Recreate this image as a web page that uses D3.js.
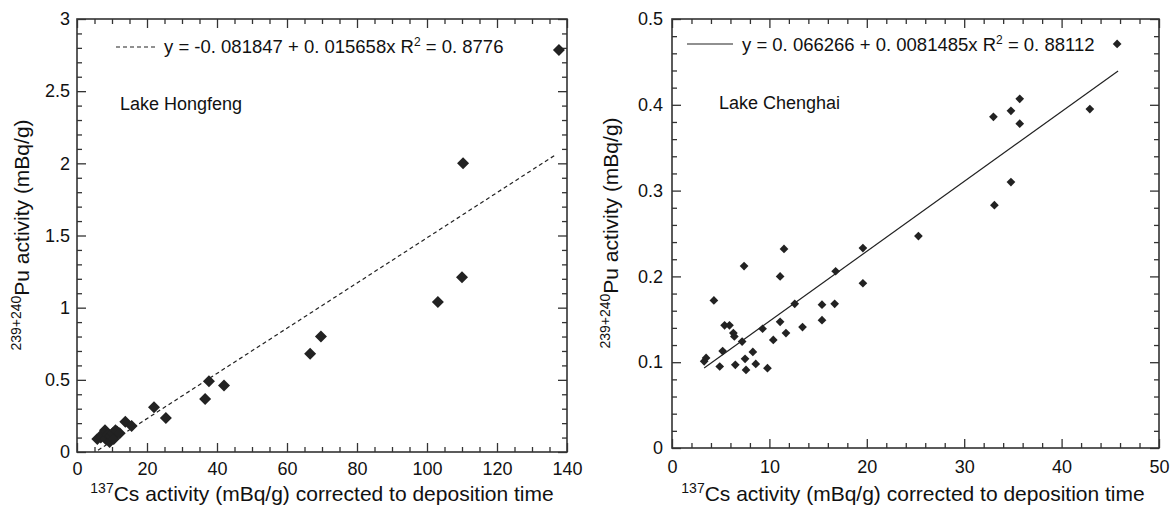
<!DOCTYPE html>
<html>
<head>
<meta charset="utf-8">
<script src="https://cdn.jsdelivr.net/npm/d3@7"></script>
<style>
  body { margin: 0; background: #fff; }
  text { font-family: "Liberation Sans", Arial, sans-serif; fill: #111; }
</style>
</head>
<body>
<svg id="chart" width="1172" height="506"></svg>
<script>
// Lake Hongfeng: 137Cs (mBq/g) vs 239+240Pu (mBq/g)
var hongCs = [5.8, 6.8, 7.5, 8.0, 8.2, 8.8, 9.3, 9.6, 10.2, 10.5, 11.0, 11.5, 12.2,
              13.8, 15.6, 22.0, 25.4, 36.6, 37.7, 42.0, 66.6, 69.7, 103.1, 110.0, 110.3, 137.7];
var hongPu = [0.09, 0.10, 0.13, 0.15, 0.09, 0.12, 0.07, 0.11, 0.13, 0.09, 0.15, 0.14, 0.13,
              0.21, 0.18, 0.31, 0.235, 0.367, 0.49, 0.46, 0.68, 0.80, 1.04, 1.21, 2.00, 2.786];
var hongFit = { a: -0.081847, b: 0.015658, from: 6, to: 137 };
var hongXTicks = [0, 20, 40, 60, 80, 100, 120, 140];
var hongXLabels = ["0", "20", "40", "60", "80", "100", "120", "140"];
var hongYTicks = [0, 0.5, 1, 1.5, 2, 2.5, 3];
var hongYLabels = ["0", "0.5", "1", "1.5", "2", "2.5", "3"];

// Lake Chenghai
var chengCs = [3.3, 3.5, 4.3, 4.9, 5.2, 5.4, 5.9, 6.3, 6.4, 6.5,
               7.2, 7.4, 7.5, 7.6, 8.3, 8.6, 9.3, 9.8, 10.4, 11.1,
               11.1, 11.5, 11.7, 12.6, 13.4, 15.4, 15.4, 16.7, 16.8, 19.6,
               19.6, 25.3, 33.0, 33.1, 34.8, 34.8, 35.7, 35.7, 42.9, 45.7];
var chengPu = [0.101, 0.105, 0.172, 0.095, 0.113, 0.143, 0.143, 0.134, 0.130, 0.097,
               0.124, 0.212, 0.104, 0.091, 0.112, 0.098, 0.139, 0.093, 0.126, 0.147,
               0.200, 0.232, 0.134, 0.168, 0.141, 0.167, 0.149, 0.168, 0.206, 0.233,
               0.192, 0.247, 0.386, 0.283, 0.393, 0.310, 0.407, 0.378, 0.395, 0.471];
var chengFit = { a: 0.066266, b: 0.0081485, from: 3.3, to: 45.8 };
var chengXTicks = [0, 10, 20, 30, 40, 50];
var chengXLabels = ["0", "10", "20", "30", "40", "50"];
var chengYTicks = [0, 0.1, 0.2, 0.3, 0.4, 0.5];
var chengYLabels = ["0", "0.1", "0.2", "0.3", "0.4", "0.5"];

var svg = d3.select("#chart");
var ink = "#222", axisInk = "#333";

function supText(sel, sup, rest, size, supSize) {
  sel.attr("font-size", size);
  sel.append("tspan").attr("font-size", supSize).attr("baseline-shift", "super").text(sup);
  sel.append("tspan").text(rest);
}

function panel(p) {
  var g = svg.append("g").attr("transform", "translate(" + p.left + "," + p.top + ")");
  var x = d3.scaleLinear().domain(p.xDomain).range([0, p.width]);
  var y = d3.scaleLinear().domain(p.yDomain).range([p.height, 0]);

  function minors(dom, step, majors) {
    return d3.range(dom[0], dom[1] + 1e-9, step).filter(function (v) {
      return !majors.some(function (t) { return Math.abs(t - v) < 1e-9; });
    });
  }
  var mx = minors(p.xDomain, p.xMinor, p.xTicks);
  var my = minors(p.yDomain, p.yMinor, p.yTicks);

  var axes = [
    g.append("g").attr("transform", "translate(0," + p.height + ")")
      .call(d3.axisBottom(x).tickValues(mx).tickSize(-5).tickFormat("")),
    g.append("g").call(d3.axisTop(x).tickValues(mx).tickSize(-5).tickFormat("")),
    g.append("g").call(d3.axisLeft(y).tickValues(my).tickSize(-5).tickFormat("")),
    g.append("g").attr("transform", "translate(" + p.width + ",0)")
      .call(d3.axisRight(y).tickValues(my).tickSize(-5).tickFormat("")),
    g.append("g").attr("transform", "translate(0," + p.height + ")")
      .call(d3.axisBottom(x).tickValues(p.xTicks).tickSize(-9).tickPadding(p.xPad)
        .tickFormat(function (d, i) { return p.xLabels[i]; })),
    g.append("g").call(d3.axisTop(x).tickValues(p.xTicks).tickSize(-9).tickFormat("")),
    g.append("g").call(d3.axisLeft(y).tickValues(p.yTicks).tickSize(-9).tickPadding(p.yPad)
        .tickFormat(function (d, i) { return p.yLabels[i]; })),
    g.append("g").attr("transform", "translate(" + p.width + ",0)")
      .call(d3.axisRight(y).tickValues(p.yTicks).tickSize(-9).tickFormat(""))
  ];
  axes.forEach(function (a) {
    a.attr("font-size", 18).attr("font-family", null);
    a.select(".domain").remove();
    a.selectAll(".tick line").attr("stroke", axisInk).attr("stroke-width", 1.3);
    a.selectAll(".tick text").attr("fill", "#111");
  });

  g.append("rect").attr("width", p.width).attr("height", p.height)
    .attr("fill", "none").attr("stroke", axisInk).attr("stroke-width", 1.6);

  // regression line
  g.append("line")
    .attr("x1", x(p.fit.from)).attr("y1", y(p.fit.a + p.fit.b * p.fit.from))
    .attr("x2", x(p.fit.to)).attr("y2", y(p.fit.a + p.fit.b * p.fit.to))
    .attr("stroke", ink).attr("stroke-width", 1.2)
    .attr("stroke-dasharray", p.dash);

  // points
  g.selectAll("path.pt").data(d3.zip(p.xs, p.ys)).join("path")
    .attr("class", "pt")
    .attr("d", d3.symbol(d3.symbolSquare, p.symSize))
    .attr("transform", function (d) {
      return "translate(" + x(d[0]) + "," + y(d[1]) + ") rotate(45)";
    })
    .attr("fill", ink);

  // legend
  g.append("line").attr("x1", p.legend[0]).attr("x2", p.legend[1])
    .attr("y1", p.legend[2]).attr("y2", p.legend[2])
    .attr("stroke", ink).attr("stroke-width", 1.2).attr("stroke-dasharray", p.dash);
  var eq = g.append("text").attr("x", p.eqPos[0]).attr("y", p.eqPos[1]).attr("font-size", 18.5);
  eq.append("tspan").text(p.eq[0]);
  eq.append("tspan").attr("font-size", 12).attr("baseline-shift", "super").text("2");
  eq.append("tspan").text(p.eq[1]);

  g.append("text").attr("x", p.lakePos[0]).attr("y", p.lakePos[1])
    .attr("font-size", 18).text(p.lake);

  // axis titles
  var xt = svg.append("text").attr("x", p.xTitle[0]).attr("y", p.xTitle[1])
    .attr("text-anchor", "middle");
  supText(xt, "137", "Cs activity (mBq/g) corrected to deposition time", 21, 14);
  var yt = svg.append("text")
    .attr("transform", "translate(" + p.yTitle[0] + "," + p.yTitle[1] + ") rotate(-90)")
    .attr("text-anchor", "middle");
  supText(yt, "239+240", "Pu activity (mBq/g)", 21, 14);
}

panel({
  left: 77, top: 19, width: 490, height: 433,
  xDomain: [0, 140], yDomain: [0, 3], xMinor: 5, yMinor: 0.1,
  xTicks: hongXTicks, xLabels: hongXLabels, yTicks: hongYTicks, yLabels: hongYLabels,
  xPad: 10, yPad: 7,
  xs: hongCs, ys: hongPu, symSize: 72, fit: hongFit, dash: "4,3",
  legend: [39, 80, 28], eqPos: [87, 34],
  eq: ["y = -0. 081847 + 0. 015658x R", " = 0. 8776"],
  lake: "Lake Hongfeng", lakePos: [43, 91],
  xTitle: [322, 501], yTitle: [29, 235]
});

panel({
  left: 672, top: 19, width: 487, height: 429,
  xDomain: [0, 50], yDomain: [0, 0.5], xMinor: 2, yMinor: 0.02,
  xTicks: chengXTicks, xLabels: chengXLabels, yTicks: chengYTicks, yLabels: chengYLabels,
  xPad: 12, yPad: 9,
  xs: chengCs, ys: chengPu, symSize: 38, fit: chengFit, dash: null,
  legend: [15, 61, 25], eqPos: [70, 32],
  eq: ["y = 0. 066266 + 0. 0081485x R", " = 0. 88112"],
  lake: "Lake Chenghai", lakePos: [47, 90],
  xTitle: [913, 501], yTitle: [618, 233]
});
</script>
</body>
</html>
